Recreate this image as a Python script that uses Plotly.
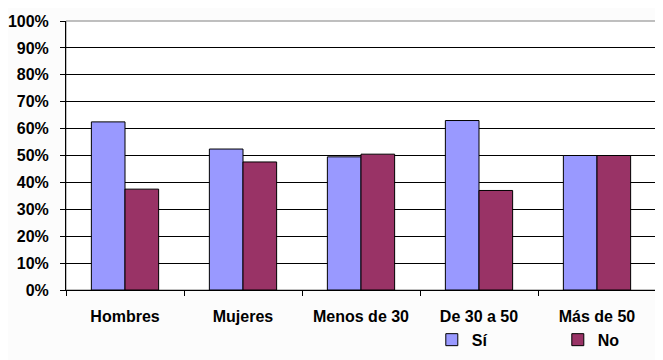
import plotly.graph_objects as go

categories = ["Hombres", "Mujeres", "Menos de 30", "De 30 a 50", "Más de 50"]
si_values = [0.625, 0.524, 0.495, 0.63, 0.50]
no_values = [0.375, 0.476, 0.505, 0.37, 0.50]

font = dict(family="Liberation Sans, Arial, sans-serif", size=16, color="black", weight="bold")

fig = go.Figure()
fig.add_trace(go.Bar(name="Sí", x=categories, y=si_values,
                     marker=dict(color="#9999FF", line=dict(color="black", width=1))))
fig.add_trace(go.Bar(name="No", x=categories, y=no_values,
                     marker=dict(color="#993366", line=dict(color="black", width=1))))

fig.update_layout(
    width=655, height=352,
    margin=dict(l=58, r=7, t=13, b=70, autoexpand=False),
    paper_bgcolor="#fcfcfc", plot_bgcolor="white",
    barmode="group", bargap=0.43, bargroupgap=0,
    font=font,
    showlegend=True,
    legend=dict(orientation="h", x=0.62, xanchor="left", y=-0.185, yanchor="middle",
                bgcolor="rgba(0,0,0,0)", entrywidth=81, entrywidthmode="pixels",
                font=font),
    xaxis=dict(showgrid=False, ticks="outside", tickson="boundaries", ticklen=5,
               tickcolor="black", showline=True, linecolor="black", linewidth=1,
               ticklabelstandoff=12, tickangle=0, tickfont=font, automargin=False),
    yaxis=dict(range=[0, 1], dtick=0.1, tickformat=".0%", showgrid=True,
               gridcolor="black", gridwidth=1, ticks="outside", ticklen=5,
               tickcolor="black", showline=True, linecolor="black", linewidth=1,
               zeroline=False, ticklabelstandoff=8, tickfont=font, automargin=False),
)
fig.add_shape(type="rect", xref="paper", yref="paper", x0=0, x1=1, y0=0, y1=1,
              line=dict(color="#808080", width=1), layer="below")

fig.write_html("out.html")
